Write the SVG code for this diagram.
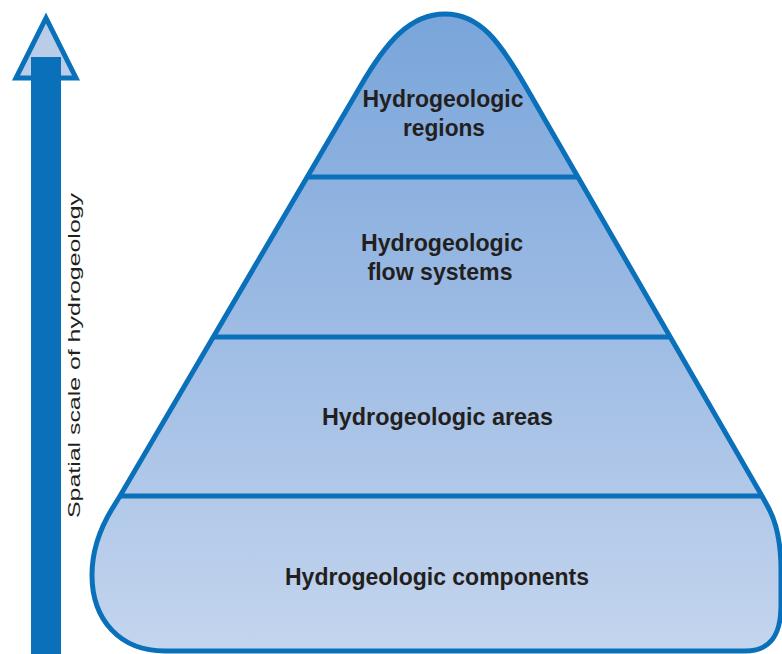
<svg xmlns="http://www.w3.org/2000/svg" width="782" height="654" viewBox="0 0 782 654">
<style>
.lbl{font-family:"Liberation Sans",Arial,sans-serif;font-weight:bold;font-size:24px;fill:#231f20;text-anchor:middle}
.axis{font-family:"Liberation Sans",Arial,sans-serif;font-size:17px;fill:#231f20;text-anchor:middle}
.edge{fill:none;stroke:#0a70ba;stroke-width:5}
</style>
<defs>
<linearGradient id="fillg" gradientUnits="userSpaceOnUse" x1="0" y1="14" x2="0" y2="652">
<stop offset="0" stop-color="#79a5da"/>
<stop offset="0.5" stop-color="#9ebce4"/>
<stop offset="1" stop-color="#c4d5ee"/>
</linearGradient>
</defs>
<rect width="782" height="654" fill="#ffffff"/>
<g id="axis-arrow">
<rect x="31" y="57" width="30" height="600" fill="#0a70ba"/>
<polygon points="46,18 16,78 76,78" fill="#b9cde9" stroke="#0a70ba" stroke-width="5" stroke-linejoin="miter"/>
<rect x="31" y="57" width="30" height="24" fill="#0a70ba"/>
<text class="axis" transform="translate(80,355.5) rotate(-90)" textLength="325" lengthAdjust="spacingAndGlyphs">Spatial scale of hydrogeology</text>
</g>
<g id="pyramid-shape">
<path id="outline" d="M360,87 C386,42 410,14 445,14 C480,14 500,42 526,87 L762,496 L768,507 C778,525 781,545 781,570 L781,605 C781,636 770,651 745,651 L165,651 C120,651 92,620 92,575 C92,552 98,532 112,509 L120,496 Z" fill="url(#fillg)"/>
</g>
<g id="connectors">
<line class="edge" x1="307" y1="177" x2="578" y2="177"/>
<line class="edge" x1="213" y1="337" x2="670" y2="337"/>
<line class="edge" x1="120" y1="496" x2="762" y2="496"/>
</g>
<path class="edge" d="M360,87 C386,42 410,14 445,14 C480,14 500,42 526,87 L762,496 L768,507 C778,525 781,545 781,570 L781,605 C781,636 770,651 745,651 L165,651 C120,651 92,620 92,575 C92,552 98,532 112,509 L120,496 Z"/>
<g id="node-regions">
<text class="lbl" x="443" y="107" textLength="161" lengthAdjust="spacingAndGlyphs">Hydrogeologic</text>
<text class="lbl" x="444" y="136" textLength="82" lengthAdjust="spacingAndGlyphs">regions</text>
</g>
<g id="node-flow-systems">
<text class="lbl" x="442" y="251" textLength="162" lengthAdjust="spacingAndGlyphs">Hydrogeologic</text>
<text class="lbl" x="440" y="280" textLength="145" lengthAdjust="spacingAndGlyphs">flow systems</text>
</g>
<g id="node-areas">
<text class="lbl" x="437.5" y="425" textLength="231" lengthAdjust="spacingAndGlyphs">Hydrogeologic areas</text>
</g>
<g id="node-components">
<text class="lbl" x="437" y="585" textLength="304" lengthAdjust="spacingAndGlyphs">Hydrogeologic components</text>
</g>
</svg>
